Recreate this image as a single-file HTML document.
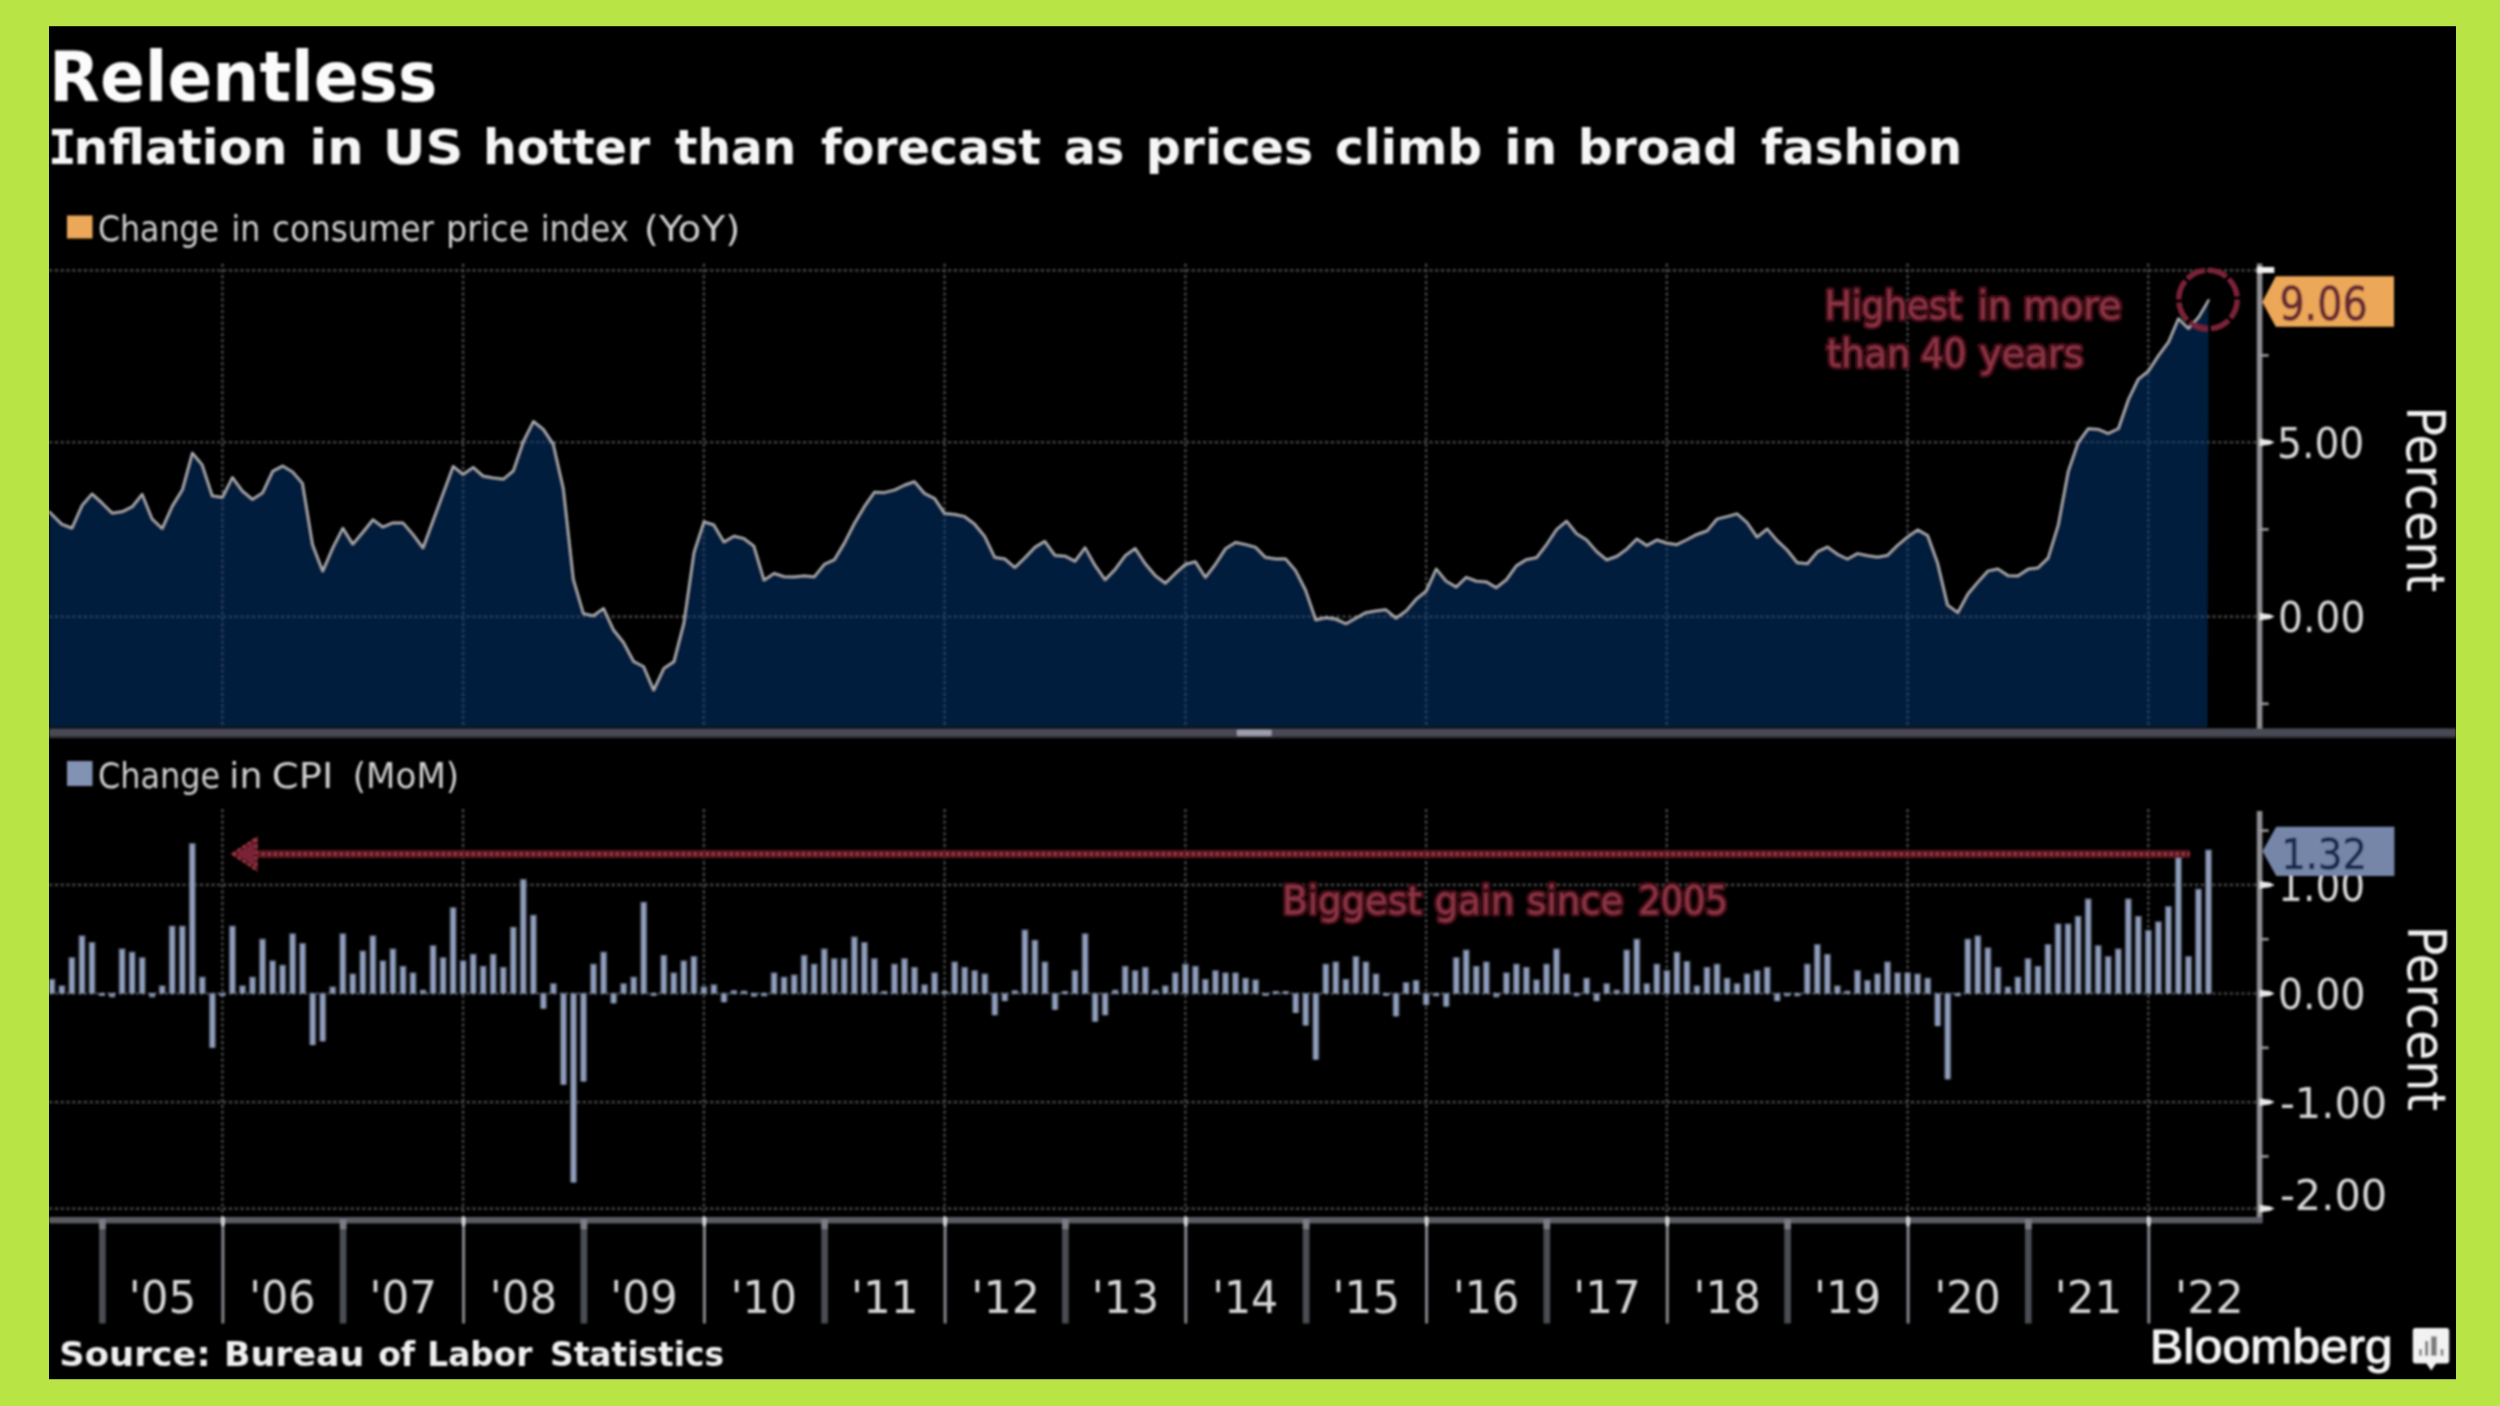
<!DOCTYPE html><html><head><meta charset="utf-8"><title>Relentless - US inflation chart</title>
<style>html,body{margin:0;padding:0;background:#b9e445;}svg{display:block}text{white-space:pre}</style></head><body>
<svg width="2500" height="1406" viewBox="0 0 2500 1406">
<rect x="0" y="0" width="2500" height="1406" fill="#b9e445"/>
<rect x="49" y="26.2" width="2407" height="1353" fill="#000"/>
<defs><filter id="soft" filterUnits="userSpaceOnUse" x="0" y="0" width="2500" height="1406"><feGaussianBlur stdDeviation="0.8"/></filter><clipPath id="box"><rect x="49" y="26.2" width="2407" height="1353"/></clipPath></defs>
<g clip-path="url(#box)"><g filter="url(#soft)">
<path d="M49,270.4 H2256.6" stroke="#424242" stroke-width="2.6" stroke-dasharray="3.2 2.6" fill="none"/>
<path d="M49,442.3 H2256.6" stroke="#424242" stroke-width="2.6" stroke-dasharray="3.2 2.6" fill="none"/>
<path d="M49,616.6 H2256.6" stroke="#424242" stroke-width="2.6" stroke-dasharray="3.2 2.6" fill="none"/>
<path d="M222.4,263.5 V727" stroke="#464646" stroke-width="2.4" stroke-dasharray="3.2 2.6" fill="none"/>
<path d="M463.1,263.5 V727" stroke="#464646" stroke-width="2.4" stroke-dasharray="3.2 2.6" fill="none"/>
<path d="M703.9,263.5 V727" stroke="#464646" stroke-width="2.4" stroke-dasharray="3.2 2.6" fill="none"/>
<path d="M944.6,263.5 V727" stroke="#464646" stroke-width="2.4" stroke-dasharray="3.2 2.6" fill="none"/>
<path d="M1185.4,263.5 V727" stroke="#464646" stroke-width="2.4" stroke-dasharray="3.2 2.6" fill="none"/>
<path d="M1426.1,263.5 V727" stroke="#464646" stroke-width="2.4" stroke-dasharray="3.2 2.6" fill="none"/>
<path d="M1666.8,263.5 V727" stroke="#464646" stroke-width="2.4" stroke-dasharray="3.2 2.6" fill="none"/>
<path d="M1907.6,263.5 V727" stroke="#464646" stroke-width="2.4" stroke-dasharray="3.2 2.6" fill="none"/>
<path d="M2148.3,263.5 V727" stroke="#464646" stroke-width="2.4" stroke-dasharray="3.2 2.6" fill="none"/>
<path d="M49.5,511.9 L61.9,524.1 L71.9,528.0 L82.0,505.3 L92.0,493.8 L102.0,502.8 L112.1,512.9 L122.1,511.6 L132.1,506.7 L142.2,494.1 L152.2,518.9 L162.2,528.3 L172.2,506.0 L182.3,489.6 L192.3,452.9 L202.3,464.8 L212.4,495.8 L222.4,497.2 L232.4,477.3 L242.5,491.0 L252.5,499.3 L262.5,492.7 L272.6,471.1 L282.6,465.8 L292.6,471.8 L302.6,483.3 L312.7,544.7 L322.7,570.9 L332.7,547.8 L342.8,528.0 L352.8,544.0 L362.8,532.1 L372.9,519.6 L382.9,526.9 L392.9,522.7 L403.0,522.7 L413.0,534.2 L423.0,547.8 L433.1,520.3 L443.1,493.1 L453.1,466.2 L463.1,474.2 L473.2,467.2 L483.2,476.0 L493.2,477.7 L503.3,479.1 L513.3,470.7 L523.3,441.4 L533.4,421.2 L543.4,429.2 L553.4,444.2 L563.5,488.9 L573.5,579.3 L583.5,613.5 L593.5,615.6 L603.6,608.2 L613.6,629.9 L623.6,642.4 L633.7,661.3 L643.7,666.5 L653.7,689.9 L663.8,668.3 L673.8,661.6 L683.8,622.9 L693.9,552.4 L703.9,521.7 L713.9,524.8 L724.0,541.9 L734.0,536.0 L744.0,538.4 L754.0,546.1 L764.1,580.0 L774.1,573.3 L784.1,576.5 L794.2,576.8 L804.2,575.8 L814.2,576.8 L824.3,564.2 L834.3,559.7 L844.3,543.0 L854.4,523.1 L864.4,506.3 L874.4,492.0 L884.4,492.4 L894.5,489.9 L904.5,485.0 L914.5,481.5 L924.6,493.4 L934.6,498.3 L944.6,513.3 L954.7,514.3 L964.7,516.4 L974.7,524.1 L984.8,536.3 L994.8,557.3 L1004.8,558.7 L1014.8,567.4 L1024.9,557.6 L1034.9,547.1 L1044.9,541.2 L1055.0,555.2 L1065.0,555.9 L1075.0,561.1 L1085.1,547.5 L1095.1,565.3 L1105.1,579.6 L1115.2,569.1 L1125.2,555.5 L1135.2,548.2 L1145.3,563.6 L1155.3,575.4 L1165.3,583.1 L1175.3,573.3 L1185.4,564.2 L1195.4,561.5 L1205.4,577.2 L1215.5,563.9 L1225.5,548.5 L1235.5,542.3 L1245.6,544.4 L1255.6,547.1 L1265.6,557.3 L1275.7,558.7 L1285.7,558.7 L1295.7,570.5 L1305.7,590.1 L1315.8,619.7 L1325.8,617.6 L1335.8,619.0 L1345.9,623.6 L1355.9,618.0 L1365.9,612.4 L1376.0,610.7 L1386.0,609.6 L1396.0,618.0 L1406.1,610.7 L1416.1,599.1 L1426.1,591.1 L1436.2,568.8 L1446.2,581.0 L1456.2,586.9 L1466.2,577.2 L1476.3,581.0 L1486.3,581.7 L1496.3,587.6 L1506.4,579.6 L1516.4,565.6 L1526.4,559.4 L1536.5,557.6 L1546.5,544.4 L1556.5,529.4 L1566.6,521.0 L1576.6,533.5 L1586.6,539.8 L1596.6,551.3 L1606.7,559.7 L1616.7,556.2 L1626.7,548.9 L1636.8,538.8 L1646.8,545.4 L1656.8,539.8 L1666.9,543.0 L1676.9,544.4 L1686.9,539.5 L1697.0,534.2 L1707.0,530.7 L1717.0,518.9 L1727.1,516.4 L1737.1,513.6 L1747.1,522.4 L1757.1,537.0 L1767.2,528.7 L1777.2,540.5 L1787.2,549.9 L1797.3,562.5 L1807.3,563.6 L1817.3,551.7 L1827.4,546.8 L1837.4,554.1 L1847.4,559.0 L1857.5,553.4 L1867.5,555.5 L1877.5,556.9 L1887.5,555.2 L1897.6,545.1 L1907.6,536.7 L1917.6,529.7 L1927.7,535.3 L1937.7,562.9 L1947.7,605.1 L1957.8,612.4 L1967.8,593.9 L1977.8,582.0 L1987.9,570.9 L1997.9,568.8 L2007.9,575.4 L2017.9,575.8 L2028.0,569.1 L2038.0,567.7 L2048.0,558.0 L2058.1,525.2 L2068.1,471.4 L2078.1,442.4 L2088.2,428.5 L2098.2,429.2 L2108.2,433.4 L2118.3,428.5 L2128.3,399.5 L2138.3,378.9 L2148.4,370.9 L2158.4,355.5 L2168.4,341.9 L2178.4,318.6 L2188.5,328.3 L2198.5,317.2 L2208.5,300.4 L2207.5,727 L49,727 Z" fill="#06356c" fill-opacity="0.56"/>
<path d="M49.5,511.9 L61.9,524.1 L71.9,528.0 L82.0,505.3 L92.0,493.8 L102.0,502.8 L112.1,512.9 L122.1,511.6 L132.1,506.7 L142.2,494.1 L152.2,518.9 L162.2,528.3 L172.2,506.0 L182.3,489.6 L192.3,452.9 L202.3,464.8 L212.4,495.8 L222.4,497.2 L232.4,477.3 L242.5,491.0 L252.5,499.3 L262.5,492.7 L272.6,471.1 L282.6,465.8 L292.6,471.8 L302.6,483.3 L312.7,544.7 L322.7,570.9 L332.7,547.8 L342.8,528.0 L352.8,544.0 L362.8,532.1 L372.9,519.6 L382.9,526.9 L392.9,522.7 L403.0,522.7 L413.0,534.2 L423.0,547.8 L433.1,520.3 L443.1,493.1 L453.1,466.2 L463.1,474.2 L473.2,467.2 L483.2,476.0 L493.2,477.7 L503.3,479.1 L513.3,470.7 L523.3,441.4 L533.4,421.2 L543.4,429.2 L553.4,444.2 L563.5,488.9 L573.5,579.3 L583.5,613.5 L593.5,615.6 L603.6,608.2 L613.6,629.9 L623.6,642.4 L633.7,661.3 L643.7,666.5 L653.7,689.9 L663.8,668.3 L673.8,661.6 L683.8,622.9 L693.9,552.4 L703.9,521.7 L713.9,524.8 L724.0,541.9 L734.0,536.0 L744.0,538.4 L754.0,546.1 L764.1,580.0 L774.1,573.3 L784.1,576.5 L794.2,576.8 L804.2,575.8 L814.2,576.8 L824.3,564.2 L834.3,559.7 L844.3,543.0 L854.4,523.1 L864.4,506.3 L874.4,492.0 L884.4,492.4 L894.5,489.9 L904.5,485.0 L914.5,481.5 L924.6,493.4 L934.6,498.3 L944.6,513.3 L954.7,514.3 L964.7,516.4 L974.7,524.1 L984.8,536.3 L994.8,557.3 L1004.8,558.7 L1014.8,567.4 L1024.9,557.6 L1034.9,547.1 L1044.9,541.2 L1055.0,555.2 L1065.0,555.9 L1075.0,561.1 L1085.1,547.5 L1095.1,565.3 L1105.1,579.6 L1115.2,569.1 L1125.2,555.5 L1135.2,548.2 L1145.3,563.6 L1155.3,575.4 L1165.3,583.1 L1175.3,573.3 L1185.4,564.2 L1195.4,561.5 L1205.4,577.2 L1215.5,563.9 L1225.5,548.5 L1235.5,542.3 L1245.6,544.4 L1255.6,547.1 L1265.6,557.3 L1275.7,558.7 L1285.7,558.7 L1295.7,570.5 L1305.7,590.1 L1315.8,619.7 L1325.8,617.6 L1335.8,619.0 L1345.9,623.6 L1355.9,618.0 L1365.9,612.4 L1376.0,610.7 L1386.0,609.6 L1396.0,618.0 L1406.1,610.7 L1416.1,599.1 L1426.1,591.1 L1436.2,568.8 L1446.2,581.0 L1456.2,586.9 L1466.2,577.2 L1476.3,581.0 L1486.3,581.7 L1496.3,587.6 L1506.4,579.6 L1516.4,565.6 L1526.4,559.4 L1536.5,557.6 L1546.5,544.4 L1556.5,529.4 L1566.6,521.0 L1576.6,533.5 L1586.6,539.8 L1596.6,551.3 L1606.7,559.7 L1616.7,556.2 L1626.7,548.9 L1636.8,538.8 L1646.8,545.4 L1656.8,539.8 L1666.9,543.0 L1676.9,544.4 L1686.9,539.5 L1697.0,534.2 L1707.0,530.7 L1717.0,518.9 L1727.1,516.4 L1737.1,513.6 L1747.1,522.4 L1757.1,537.0 L1767.2,528.7 L1777.2,540.5 L1787.2,549.9 L1797.3,562.5 L1807.3,563.6 L1817.3,551.7 L1827.4,546.8 L1837.4,554.1 L1847.4,559.0 L1857.5,553.4 L1867.5,555.5 L1877.5,556.9 L1887.5,555.2 L1897.6,545.1 L1907.6,536.7 L1917.6,529.7 L1927.7,535.3 L1937.7,562.9 L1947.7,605.1 L1957.8,612.4 L1967.8,593.9 L1977.8,582.0 L1987.9,570.9 L1997.9,568.8 L2007.9,575.4 L2017.9,575.8 L2028.0,569.1 L2038.0,567.7 L2048.0,558.0 L2058.1,525.2 L2068.1,471.4 L2078.1,442.4 L2088.2,428.5 L2098.2,429.2 L2108.2,433.4 L2118.3,428.5 L2128.3,399.5 L2138.3,378.9 L2148.4,370.9 L2158.4,355.5 L2168.4,341.9 L2178.4,318.6 L2188.5,328.3 L2198.5,317.2 L2208.5,300.4" fill="none" stroke="#b0b2b6" stroke-width="2.5" stroke-linejoin="round" stroke-linecap="round"/>
<circle cx="2208" cy="299.5" r="29.2" fill="none" stroke="#7c2438" stroke-width="5.6" stroke-dasharray="19.9 3"/>
<rect x="2256.7999999999997" y="263.5" width="5.6" height="466" fill="#8e8e92"/>
<rect x="2256.7999999999997" y="267" width="17.5" height="6" fill="#f0f0f0"/>
<path d="M2259.6,438.7 L2269.6,439.90000000000003 L2274.6,442.3 L2269.6,444.7 L2259.6,445.90000000000003 Z" fill="#e8e8e8"/>
<path d="M2259.6,613.0 L2269.6,614.2 L2274.6,616.6 L2269.6,619.0 L2259.6,620.2 Z" fill="#e8e8e8"/>
<rect x="2259.6" y="354.09999999999997" width="9" height="2.6" fill="#9a9a9a"/>
<rect x="2259.6" y="528.1" width="9" height="2.6" fill="#9a9a9a"/>
<rect x="2259.6" y="702.5" width="9" height="2.6" fill="#9a9a9a"/>
<rect x="49" y="728.4" width="2407" height="9.6" fill="#484a54"/>
<rect x="49" y="736" width="2407" height="2.4" fill="#2c2d33"/>
<rect x="1237" y="729.8" width="34.5" height="6" fill="#9c9eab"/>
<rect x="67" y="215.5" width="25.5" height="23" fill="#eca858"/>
<rect x="67" y="761" width="25.5" height="25" fill="#8292b2"/>
<path d="M49,884.9 H2256.6" stroke="#424242" stroke-width="2.6" stroke-dasharray="3.2 2.6" fill="none"/>
<path d="M49,993.5 H2256.6" stroke="#424242" stroke-width="2.6" stroke-dasharray="3.2 2.6" fill="none"/>
<path d="M49,1102.1 H2256.6" stroke="#424242" stroke-width="2.6" stroke-dasharray="3.2 2.6" fill="none"/>
<path d="M49,1208.6 H2256.6" stroke="#424242" stroke-width="2.6" stroke-dasharray="3.2 2.6" fill="none"/>
<path d="M222.4,809 V1217" stroke="#464646" stroke-width="2.4" stroke-dasharray="3.2 2.6" fill="none"/>
<path d="M463.1,809 V1217" stroke="#464646" stroke-width="2.4" stroke-dasharray="3.2 2.6" fill="none"/>
<path d="M703.9,809 V1217" stroke="#464646" stroke-width="2.4" stroke-dasharray="3.2 2.6" fill="none"/>
<path d="M944.6,809 V1217" stroke="#464646" stroke-width="2.4" stroke-dasharray="3.2 2.6" fill="none"/>
<path d="M1185.4,809 V1217" stroke="#464646" stroke-width="2.4" stroke-dasharray="3.2 2.6" fill="none"/>
<path d="M1426.1,809 V1217" stroke="#464646" stroke-width="2.4" stroke-dasharray="3.2 2.6" fill="none"/>
<path d="M1666.8,809 V1217" stroke="#464646" stroke-width="2.4" stroke-dasharray="3.2 2.6" fill="none"/>
<path d="M1907.6,809 V1217" stroke="#464646" stroke-width="2.4" stroke-dasharray="3.2 2.6" fill="none"/>
<path d="M2148.3,809 V1217" stroke="#464646" stroke-width="2.4" stroke-dasharray="3.2 2.6" fill="none"/>
<g><rect x="49.0" y="978.8" width="6.4" height="14.7" fill="#555c6c"/><rect x="50.0" y="980.0" width="3.8" height="13.5" fill="#93a3c2"/><rect x="58.4" y="985.3" width="7.0" height="8.2" fill="#555c6c"/><rect x="60.0" y="986.5" width="3.8" height="7.0" fill="#93a3c2"/><rect x="68.4" y="957.1" width="7.0" height="36.4" fill="#555c6c"/><rect x="70.0" y="958.3" width="3.8" height="35.2" fill="#93a3c2"/><rect x="78.5" y="935.3" width="7.0" height="58.2" fill="#555c6c"/><rect x="80.1" y="936.5" width="3.8" height="57.0" fill="#93a3c2"/><rect x="88.5" y="941.9" width="7.0" height="51.6" fill="#555c6c"/><rect x="90.1" y="943.1" width="3.8" height="50.4" fill="#93a3c2"/><rect x="99.0" y="993.0" width="6" height="3.0" fill="#7f8ca6"/><rect x="109.1" y="993.0" width="6" height="4.3" fill="#7f8ca6"/><rect x="118.6" y="948.4" width="7.0" height="45.1" fill="#555c6c"/><rect x="120.2" y="949.6" width="3.8" height="43.9" fill="#93a3c2"/><rect x="128.6" y="951.6" width="7.0" height="41.9" fill="#555c6c"/><rect x="130.2" y="952.8" width="3.8" height="40.7" fill="#93a3c2"/><rect x="138.7" y="957.1" width="7.0" height="36.4" fill="#555c6c"/><rect x="140.3" y="958.3" width="3.8" height="35.2" fill="#93a3c2"/><rect x="149.2" y="993.0" width="6" height="4.3" fill="#7f8ca6"/><rect x="158.7" y="985.3" width="7.0" height="8.2" fill="#555c6c"/><rect x="160.3" y="986.5" width="3.8" height="7.0" fill="#93a3c2"/><rect x="168.7" y="925.6" width="7.0" height="67.9" fill="#555c6c"/><rect x="170.3" y="926.8" width="3.8" height="66.7" fill="#93a3c2"/><rect x="178.8" y="925.6" width="7.0" height="67.9" fill="#555c6c"/><rect x="180.4" y="926.8" width="3.8" height="66.7" fill="#93a3c2"/><rect x="188.8" y="843.0" width="7.0" height="150.5" fill="#555c6c"/><rect x="190.4" y="844.2" width="3.8" height="149.3" fill="#93a3c2"/><rect x="198.8" y="976.6" width="7.0" height="16.9" fill="#555c6c"/><rect x="200.4" y="977.8" width="3.8" height="15.7" fill="#93a3c2"/><rect x="208.9" y="992.9" width="7.0" height="54.9" fill="#555c6c"/><rect x="210.5" y="994.1" width="3.8" height="53.7" fill="#93a3c2"/><rect x="219.4" y="993.0" width="6" height="3.0" fill="#7f8ca6"/><rect x="228.9" y="925.6" width="7.0" height="67.9" fill="#555c6c"/><rect x="230.5" y="926.8" width="3.8" height="66.7" fill="#93a3c2"/><rect x="239.0" y="985.3" width="7.0" height="8.2" fill="#555c6c"/><rect x="240.6" y="986.5" width="3.8" height="7.0" fill="#93a3c2"/><rect x="249.0" y="976.6" width="7.0" height="16.9" fill="#555c6c"/><rect x="250.6" y="977.8" width="3.8" height="15.7" fill="#93a3c2"/><rect x="259.0" y="938.6" width="7.0" height="54.9" fill="#555c6c"/><rect x="260.6" y="939.8" width="3.8" height="53.7" fill="#93a3c2"/><rect x="269.1" y="960.3" width="7.0" height="33.2" fill="#555c6c"/><rect x="270.7" y="961.5" width="3.8" height="32.0" fill="#93a3c2"/><rect x="279.1" y="964.7" width="7.0" height="28.8" fill="#555c6c"/><rect x="280.7" y="965.9" width="3.8" height="27.6" fill="#93a3c2"/><rect x="289.1" y="933.2" width="7.0" height="60.3" fill="#555c6c"/><rect x="290.7" y="934.4" width="3.8" height="59.1" fill="#93a3c2"/><rect x="299.1" y="942.9" width="7.0" height="50.6" fill="#555c6c"/><rect x="300.7" y="944.1" width="3.8" height="49.4" fill="#93a3c2"/><rect x="309.2" y="992.9" width="7.0" height="52.2" fill="#555c6c"/><rect x="310.8" y="994.1" width="3.8" height="51.0" fill="#93a3c2"/><rect x="319.2" y="992.9" width="7.0" height="48.4" fill="#555c6c"/><rect x="320.8" y="994.1" width="3.8" height="47.2" fill="#93a3c2"/><rect x="329.2" y="986.4" width="7.0" height="7.1" fill="#555c6c"/><rect x="330.8" y="987.6" width="3.8" height="5.9" fill="#93a3c2"/><rect x="339.3" y="933.2" width="7.0" height="60.3" fill="#555c6c"/><rect x="340.9" y="934.4" width="3.8" height="59.1" fill="#93a3c2"/><rect x="349.3" y="973.4" width="7.0" height="20.1" fill="#555c6c"/><rect x="350.9" y="974.6" width="3.8" height="18.9" fill="#93a3c2"/><rect x="359.3" y="950.5" width="7.0" height="43.0" fill="#555c6c"/><rect x="360.9" y="951.7" width="3.8" height="41.8" fill="#93a3c2"/><rect x="369.4" y="935.3" width="7.0" height="58.2" fill="#555c6c"/><rect x="371.0" y="936.5" width="3.8" height="57.0" fill="#93a3c2"/><rect x="379.4" y="960.3" width="7.0" height="33.2" fill="#555c6c"/><rect x="381.0" y="961.5" width="3.8" height="32.0" fill="#93a3c2"/><rect x="389.4" y="948.4" width="7.0" height="45.1" fill="#555c6c"/><rect x="391.0" y="949.6" width="3.8" height="43.9" fill="#93a3c2"/><rect x="399.5" y="965.8" width="7.0" height="27.7" fill="#555c6c"/><rect x="401.1" y="967.0" width="3.8" height="26.5" fill="#93a3c2"/><rect x="409.5" y="972.3" width="7.0" height="21.2" fill="#555c6c"/><rect x="411.1" y="973.5" width="3.8" height="20.0" fill="#93a3c2"/><rect x="420.0" y="989.7" width="6" height="4.3" fill="#7f8ca6"/><rect x="429.6" y="945.1" width="7.0" height="48.4" fill="#555c6c"/><rect x="431.2" y="946.3" width="3.8" height="47.2" fill="#93a3c2"/><rect x="439.6" y="957.1" width="7.0" height="36.4" fill="#555c6c"/><rect x="441.2" y="958.3" width="3.8" height="35.2" fill="#93a3c2"/><rect x="449.6" y="907.1" width="7.0" height="86.4" fill="#555c6c"/><rect x="451.2" y="908.3" width="3.8" height="85.2" fill="#93a3c2"/><rect x="459.6" y="960.3" width="7.0" height="33.2" fill="#555c6c"/><rect x="461.2" y="961.5" width="3.8" height="32.0" fill="#93a3c2"/><rect x="469.7" y="953.8" width="7.0" height="39.7" fill="#555c6c"/><rect x="471.3" y="955.0" width="3.8" height="38.5" fill="#93a3c2"/><rect x="479.7" y="965.8" width="7.0" height="27.7" fill="#555c6c"/><rect x="481.3" y="967.0" width="3.8" height="26.5" fill="#93a3c2"/><rect x="489.7" y="953.8" width="7.0" height="39.7" fill="#555c6c"/><rect x="491.3" y="955.0" width="3.8" height="38.5" fill="#93a3c2"/><rect x="499.8" y="966.8" width="7.0" height="26.7" fill="#555c6c"/><rect x="501.4" y="968.0" width="3.8" height="25.5" fill="#93a3c2"/><rect x="509.8" y="926.7" width="7.0" height="66.8" fill="#555c6c"/><rect x="511.4" y="927.9" width="3.8" height="65.6" fill="#93a3c2"/><rect x="519.8" y="878.9" width="7.0" height="114.6" fill="#555c6c"/><rect x="521.4" y="880.1" width="3.8" height="113.4" fill="#93a3c2"/><rect x="529.9" y="914.7" width="7.0" height="78.8" fill="#555c6c"/><rect x="531.5" y="915.9" width="3.8" height="77.6" fill="#93a3c2"/><rect x="539.9" y="992.9" width="7.0" height="15.8" fill="#555c6c"/><rect x="541.5" y="994.1" width="3.8" height="14.6" fill="#93a3c2"/><rect x="549.9" y="983.1" width="7.0" height="10.4" fill="#555c6c"/><rect x="551.5" y="984.3" width="3.8" height="9.2" fill="#93a3c2"/><rect x="560.0" y="992.9" width="7.0" height="91.8" fill="#555c6c"/><rect x="561.6" y="994.1" width="3.8" height="90.6" fill="#93a3c2"/><rect x="570.0" y="992.9" width="7.0" height="189.6" fill="#555c6c"/><rect x="571.6" y="994.1" width="3.8" height="188.4" fill="#93a3c2"/><rect x="580.0" y="992.9" width="7.0" height="88.6" fill="#555c6c"/><rect x="581.6" y="994.1" width="3.8" height="87.4" fill="#93a3c2"/><rect x="590.0" y="963.6" width="7.0" height="29.9" fill="#555c6c"/><rect x="591.6" y="964.8" width="3.8" height="28.7" fill="#93a3c2"/><rect x="600.1" y="951.6" width="7.0" height="41.9" fill="#555c6c"/><rect x="601.7" y="952.8" width="3.8" height="40.7" fill="#93a3c2"/><rect x="610.1" y="992.9" width="7.0" height="10.4" fill="#555c6c"/><rect x="611.7" y="994.1" width="3.8" height="9.2" fill="#93a3c2"/><rect x="620.1" y="983.1" width="7.0" height="10.4" fill="#555c6c"/><rect x="621.7" y="984.3" width="3.8" height="9.2" fill="#93a3c2"/><rect x="630.2" y="976.6" width="7.0" height="16.9" fill="#555c6c"/><rect x="631.8" y="977.8" width="3.8" height="15.7" fill="#93a3c2"/><rect x="640.2" y="901.7" width="7.0" height="91.8" fill="#555c6c"/><rect x="641.8" y="902.9" width="3.8" height="90.6" fill="#93a3c2"/><rect x="650.7" y="993.0" width="6" height="3.0" fill="#7f8ca6"/><rect x="660.3" y="954.9" width="7.0" height="38.6" fill="#555c6c"/><rect x="661.9" y="956.1" width="3.8" height="37.4" fill="#93a3c2"/><rect x="670.3" y="972.3" width="7.0" height="21.2" fill="#555c6c"/><rect x="671.9" y="973.5" width="3.8" height="20.0" fill="#93a3c2"/><rect x="680.3" y="960.3" width="7.0" height="33.2" fill="#555c6c"/><rect x="681.9" y="961.5" width="3.8" height="32.0" fill="#93a3c2"/><rect x="690.4" y="956.0" width="7.0" height="37.5" fill="#555c6c"/><rect x="692.0" y="957.2" width="3.8" height="36.3" fill="#93a3c2"/><rect x="700.4" y="986.4" width="7.0" height="7.1" fill="#555c6c"/><rect x="702.0" y="987.6" width="3.8" height="5.9" fill="#93a3c2"/><rect x="710.4" y="984.2" width="7.0" height="9.3" fill="#555c6c"/><rect x="712.0" y="985.4" width="3.8" height="8.1" fill="#93a3c2"/><rect x="720.5" y="992.9" width="7.0" height="9.3" fill="#555c6c"/><rect x="722.1" y="994.1" width="3.8" height="8.1" fill="#93a3c2"/><rect x="731.0" y="990.2" width="6" height="3.8" fill="#7f8ca6"/><rect x="741.0" y="990.7" width="6" height="3.3" fill="#7f8ca6"/><rect x="751.0" y="993.0" width="6" height="3.8" fill="#7f8ca6"/><rect x="761.1" y="993.0" width="6" height="3.3" fill="#7f8ca6"/><rect x="770.6" y="972.3" width="7.0" height="21.2" fill="#555c6c"/><rect x="772.2" y="973.5" width="3.8" height="20.0" fill="#93a3c2"/><rect x="780.6" y="976.6" width="7.0" height="16.9" fill="#555c6c"/><rect x="782.2" y="977.8" width="3.8" height="15.7" fill="#93a3c2"/><rect x="790.7" y="974.4" width="7.0" height="19.1" fill="#555c6c"/><rect x="792.3" y="975.6" width="3.8" height="17.9" fill="#93a3c2"/><rect x="800.7" y="954.9" width="7.0" height="38.6" fill="#555c6c"/><rect x="802.3" y="956.1" width="3.8" height="37.4" fill="#93a3c2"/><rect x="810.7" y="963.6" width="7.0" height="29.9" fill="#555c6c"/><rect x="812.3" y="964.8" width="3.8" height="28.7" fill="#93a3c2"/><rect x="820.8" y="948.4" width="7.0" height="45.1" fill="#555c6c"/><rect x="822.4" y="949.6" width="3.8" height="43.9" fill="#93a3c2"/><rect x="830.8" y="958.1" width="7.0" height="35.4" fill="#555c6c"/><rect x="832.4" y="959.3" width="3.8" height="34.2" fill="#93a3c2"/><rect x="840.8" y="958.1" width="7.0" height="35.4" fill="#555c6c"/><rect x="842.4" y="959.3" width="3.8" height="34.2" fill="#93a3c2"/><rect x="850.9" y="936.4" width="7.0" height="57.1" fill="#555c6c"/><rect x="852.5" y="937.6" width="3.8" height="55.9" fill="#93a3c2"/><rect x="860.9" y="941.9" width="7.0" height="51.6" fill="#555c6c"/><rect x="862.5" y="943.1" width="3.8" height="50.4" fill="#93a3c2"/><rect x="870.9" y="958.1" width="7.0" height="35.4" fill="#555c6c"/><rect x="872.5" y="959.3" width="3.8" height="34.2" fill="#93a3c2"/><rect x="881.4" y="991.0" width="6" height="3.0" fill="#7f8ca6"/><rect x="891.0" y="963.6" width="7.0" height="29.9" fill="#555c6c"/><rect x="892.6" y="964.8" width="3.8" height="28.7" fill="#93a3c2"/><rect x="901.0" y="958.1" width="7.0" height="35.4" fill="#555c6c"/><rect x="902.6" y="959.3" width="3.8" height="34.2" fill="#93a3c2"/><rect x="911.0" y="966.8" width="7.0" height="26.7" fill="#555c6c"/><rect x="912.6" y="968.0" width="3.8" height="25.5" fill="#93a3c2"/><rect x="921.1" y="984.2" width="7.0" height="9.3" fill="#555c6c"/><rect x="922.7" y="985.4" width="3.8" height="8.1" fill="#93a3c2"/><rect x="931.1" y="972.3" width="7.0" height="21.2" fill="#555c6c"/><rect x="932.7" y="973.5" width="3.8" height="20.0" fill="#93a3c2"/><rect x="941.6" y="991.0" width="6" height="3.0" fill="#7f8ca6"/><rect x="951.2" y="961.4" width="7.0" height="32.1" fill="#555c6c"/><rect x="952.8" y="962.6" width="3.8" height="30.9" fill="#93a3c2"/><rect x="961.2" y="966.8" width="7.0" height="26.7" fill="#555c6c"/><rect x="962.8" y="968.0" width="3.8" height="25.5" fill="#93a3c2"/><rect x="971.2" y="970.1" width="7.0" height="23.4" fill="#555c6c"/><rect x="972.8" y="971.3" width="3.8" height="22.2" fill="#93a3c2"/><rect x="981.3" y="973.4" width="7.0" height="20.1" fill="#555c6c"/><rect x="982.9" y="974.6" width="3.8" height="18.9" fill="#93a3c2"/><rect x="991.3" y="992.9" width="7.0" height="22.3" fill="#555c6c"/><rect x="992.9" y="994.1" width="3.8" height="21.1" fill="#93a3c2"/><rect x="1001.3" y="992.9" width="7.0" height="8.2" fill="#555c6c"/><rect x="1002.9" y="994.1" width="3.8" height="7.0" fill="#93a3c2"/><rect x="1011.8" y="990.2" width="6" height="3.8" fill="#7f8ca6"/><rect x="1021.4" y="929.4" width="7.0" height="64.1" fill="#555c6c"/><rect x="1023.0" y="930.6" width="3.8" height="62.9" fill="#93a3c2"/><rect x="1031.4" y="939.7" width="7.0" height="53.8" fill="#555c6c"/><rect x="1033.0" y="940.9" width="3.8" height="52.6" fill="#93a3c2"/><rect x="1041.4" y="961.4" width="7.0" height="32.1" fill="#555c6c"/><rect x="1043.0" y="962.6" width="3.8" height="30.9" fill="#93a3c2"/><rect x="1051.5" y="992.9" width="7.0" height="16.9" fill="#555c6c"/><rect x="1053.1" y="994.1" width="3.8" height="15.7" fill="#93a3c2"/><rect x="1062.0" y="991.0" width="6" height="3.0" fill="#7f8ca6"/><rect x="1071.5" y="970.1" width="7.0" height="23.4" fill="#555c6c"/><rect x="1073.1" y="971.3" width="3.8" height="22.2" fill="#93a3c2"/><rect x="1081.6" y="933.2" width="7.0" height="60.3" fill="#555c6c"/><rect x="1083.2" y="934.4" width="3.8" height="59.1" fill="#93a3c2"/><rect x="1091.6" y="992.9" width="7.0" height="28.8" fill="#555c6c"/><rect x="1093.2" y="994.1" width="3.8" height="27.6" fill="#93a3c2"/><rect x="1101.6" y="992.9" width="7.0" height="22.3" fill="#555c6c"/><rect x="1103.2" y="994.1" width="3.8" height="21.1" fill="#93a3c2"/><rect x="1112.2" y="989.7" width="6" height="4.3" fill="#7f8ca6"/><rect x="1121.7" y="965.8" width="7.0" height="27.7" fill="#555c6c"/><rect x="1123.3" y="967.0" width="3.8" height="26.5" fill="#93a3c2"/><rect x="1131.7" y="970.1" width="7.0" height="23.4" fill="#555c6c"/><rect x="1133.3" y="971.3" width="3.8" height="22.2" fill="#93a3c2"/><rect x="1141.8" y="966.8" width="7.0" height="26.7" fill="#555c6c"/><rect x="1143.4" y="968.0" width="3.8" height="25.5" fill="#93a3c2"/><rect x="1152.3" y="989.7" width="6" height="4.3" fill="#7f8ca6"/><rect x="1161.8" y="985.3" width="7.0" height="8.2" fill="#555c6c"/><rect x="1163.4" y="986.5" width="3.8" height="7.0" fill="#93a3c2"/><rect x="1171.8" y="972.3" width="7.0" height="21.2" fill="#555c6c"/><rect x="1173.4" y="973.5" width="3.8" height="20.0" fill="#93a3c2"/><rect x="1181.9" y="963.6" width="7.0" height="29.9" fill="#555c6c"/><rect x="1183.5" y="964.8" width="3.8" height="28.7" fill="#93a3c2"/><rect x="1191.9" y="965.8" width="7.0" height="27.7" fill="#555c6c"/><rect x="1193.5" y="967.0" width="3.8" height="26.5" fill="#93a3c2"/><rect x="1201.9" y="978.8" width="7.0" height="14.7" fill="#555c6c"/><rect x="1203.5" y="980.0" width="3.8" height="13.5" fill="#93a3c2"/><rect x="1212.0" y="970.1" width="7.0" height="23.4" fill="#555c6c"/><rect x="1213.6" y="971.3" width="3.8" height="22.2" fill="#93a3c2"/><rect x="1222.0" y="972.3" width="7.0" height="21.2" fill="#555c6c"/><rect x="1223.6" y="973.5" width="3.8" height="20.0" fill="#93a3c2"/><rect x="1232.0" y="972.3" width="7.0" height="21.2" fill="#555c6c"/><rect x="1233.6" y="973.5" width="3.8" height="20.0" fill="#93a3c2"/><rect x="1242.1" y="977.7" width="7.0" height="15.8" fill="#555c6c"/><rect x="1243.7" y="978.9" width="3.8" height="14.6" fill="#93a3c2"/><rect x="1252.1" y="979.3" width="7.0" height="14.2" fill="#555c6c"/><rect x="1253.7" y="980.5" width="3.8" height="13.0" fill="#93a3c2"/><rect x="1262.6" y="993.0" width="6" height="3.0" fill="#7f8ca6"/><rect x="1272.7" y="991.0" width="6" height="3.0" fill="#7f8ca6"/><rect x="1282.7" y="991.0" width="6" height="3.0" fill="#7f8ca6"/><rect x="1292.2" y="992.9" width="7.0" height="20.1" fill="#555c6c"/><rect x="1293.8" y="994.1" width="3.8" height="18.9" fill="#93a3c2"/><rect x="1302.2" y="992.9" width="7.0" height="32.6" fill="#555c6c"/><rect x="1303.8" y="994.1" width="3.8" height="31.4" fill="#93a3c2"/><rect x="1312.3" y="992.9" width="7.0" height="66.8" fill="#555c6c"/><rect x="1313.9" y="994.1" width="3.8" height="65.6" fill="#93a3c2"/><rect x="1322.3" y="963.6" width="7.0" height="29.9" fill="#555c6c"/><rect x="1323.9" y="964.8" width="3.8" height="28.7" fill="#93a3c2"/><rect x="1332.3" y="961.4" width="7.0" height="32.1" fill="#555c6c"/><rect x="1333.9" y="962.6" width="3.8" height="30.9" fill="#93a3c2"/><rect x="1342.4" y="978.8" width="7.0" height="14.7" fill="#555c6c"/><rect x="1344.0" y="980.0" width="3.8" height="13.5" fill="#93a3c2"/><rect x="1352.4" y="956.0" width="7.0" height="37.5" fill="#555c6c"/><rect x="1354.0" y="957.2" width="3.8" height="36.3" fill="#93a3c2"/><rect x="1362.4" y="961.4" width="7.0" height="32.1" fill="#555c6c"/><rect x="1364.0" y="962.6" width="3.8" height="30.9" fill="#93a3c2"/><rect x="1372.5" y="973.4" width="7.0" height="20.1" fill="#555c6c"/><rect x="1374.1" y="974.6" width="3.8" height="18.9" fill="#93a3c2"/><rect x="1383.0" y="993.0" width="6" height="3.0" fill="#7f8ca6"/><rect x="1392.5" y="992.9" width="7.0" height="23.4" fill="#555c6c"/><rect x="1394.1" y="994.1" width="3.8" height="22.2" fill="#93a3c2"/><rect x="1402.6" y="982.0" width="7.0" height="11.5" fill="#555c6c"/><rect x="1404.2" y="983.2" width="3.8" height="10.3" fill="#93a3c2"/><rect x="1412.6" y="979.9" width="7.0" height="13.6" fill="#555c6c"/><rect x="1414.2" y="981.1" width="3.8" height="12.4" fill="#93a3c2"/><rect x="1422.6" y="992.9" width="7.0" height="12.0" fill="#555c6c"/><rect x="1424.2" y="994.1" width="3.8" height="10.8" fill="#93a3c2"/><rect x="1433.2" y="993.0" width="6" height="3.3" fill="#7f8ca6"/><rect x="1442.7" y="992.9" width="7.0" height="13.6" fill="#555c6c"/><rect x="1444.3" y="994.1" width="3.8" height="12.4" fill="#93a3c2"/><rect x="1452.7" y="957.1" width="7.0" height="36.4" fill="#555c6c"/><rect x="1454.3" y="958.3" width="3.8" height="35.2" fill="#93a3c2"/><rect x="1462.7" y="949.5" width="7.0" height="44.0" fill="#555c6c"/><rect x="1464.3" y="950.7" width="3.8" height="42.8" fill="#93a3c2"/><rect x="1472.8" y="965.8" width="7.0" height="27.7" fill="#555c6c"/><rect x="1474.4" y="967.0" width="3.8" height="26.5" fill="#93a3c2"/><rect x="1482.8" y="961.4" width="7.0" height="32.1" fill="#555c6c"/><rect x="1484.4" y="962.6" width="3.8" height="30.9" fill="#93a3c2"/><rect x="1493.3" y="993.0" width="6" height="4.3" fill="#7f8ca6"/><rect x="1502.9" y="972.3" width="7.0" height="21.2" fill="#555c6c"/><rect x="1504.5" y="973.5" width="3.8" height="20.0" fill="#93a3c2"/><rect x="1512.9" y="963.6" width="7.0" height="29.9" fill="#555c6c"/><rect x="1514.5" y="964.8" width="3.8" height="28.7" fill="#93a3c2"/><rect x="1522.9" y="966.8" width="7.0" height="26.7" fill="#555c6c"/><rect x="1524.5" y="968.0" width="3.8" height="25.5" fill="#93a3c2"/><rect x="1533.0" y="979.3" width="7.0" height="14.2" fill="#555c6c"/><rect x="1534.6" y="980.5" width="3.8" height="13.0" fill="#93a3c2"/><rect x="1543.0" y="963.6" width="7.0" height="29.9" fill="#555c6c"/><rect x="1544.6" y="964.8" width="3.8" height="28.7" fill="#93a3c2"/><rect x="1553.0" y="948.4" width="7.0" height="45.1" fill="#555c6c"/><rect x="1554.6" y="949.6" width="3.8" height="43.9" fill="#93a3c2"/><rect x="1563.1" y="973.4" width="7.0" height="20.1" fill="#555c6c"/><rect x="1564.7" y="974.6" width="3.8" height="18.9" fill="#93a3c2"/><rect x="1573.6" y="993.0" width="6" height="3.3" fill="#7f8ca6"/><rect x="1583.1" y="977.7" width="7.0" height="15.8" fill="#555c6c"/><rect x="1584.7" y="978.9" width="3.8" height="14.6" fill="#93a3c2"/><rect x="1593.1" y="992.9" width="7.0" height="8.2" fill="#555c6c"/><rect x="1594.7" y="994.1" width="3.8" height="7.0" fill="#93a3c2"/><rect x="1603.2" y="983.1" width="7.0" height="10.4" fill="#555c6c"/><rect x="1604.8" y="984.3" width="3.8" height="9.2" fill="#93a3c2"/><rect x="1613.7" y="989.7" width="6" height="4.3" fill="#7f8ca6"/><rect x="1623.2" y="949.5" width="7.0" height="44.0" fill="#555c6c"/><rect x="1624.8" y="950.7" width="3.8" height="42.8" fill="#93a3c2"/><rect x="1633.3" y="938.6" width="7.0" height="54.9" fill="#555c6c"/><rect x="1634.9" y="939.8" width="3.8" height="53.7" fill="#93a3c2"/><rect x="1643.3" y="983.1" width="7.0" height="10.4" fill="#555c6c"/><rect x="1644.9" y="984.3" width="3.8" height="9.2" fill="#93a3c2"/><rect x="1653.3" y="963.6" width="7.0" height="29.9" fill="#555c6c"/><rect x="1654.9" y="964.8" width="3.8" height="28.7" fill="#93a3c2"/><rect x="1663.4" y="970.1" width="7.0" height="23.4" fill="#555c6c"/><rect x="1665.0" y="971.3" width="3.8" height="22.2" fill="#93a3c2"/><rect x="1673.4" y="951.6" width="7.0" height="41.9" fill="#555c6c"/><rect x="1675.0" y="952.8" width="3.8" height="40.7" fill="#93a3c2"/><rect x="1683.4" y="960.9" width="7.0" height="32.6" fill="#555c6c"/><rect x="1685.0" y="962.1" width="3.8" height="31.4" fill="#93a3c2"/><rect x="1693.5" y="985.3" width="7.0" height="8.2" fill="#555c6c"/><rect x="1695.1" y="986.5" width="3.8" height="7.0" fill="#93a3c2"/><rect x="1703.5" y="966.8" width="7.0" height="26.7" fill="#555c6c"/><rect x="1705.1" y="968.0" width="3.8" height="25.5" fill="#93a3c2"/><rect x="1713.5" y="963.6" width="7.0" height="29.9" fill="#555c6c"/><rect x="1715.1" y="964.8" width="3.8" height="28.7" fill="#93a3c2"/><rect x="1723.6" y="977.7" width="7.0" height="15.8" fill="#555c6c"/><rect x="1725.2" y="978.9" width="3.8" height="14.6" fill="#93a3c2"/><rect x="1733.6" y="983.1" width="7.0" height="10.4" fill="#555c6c"/><rect x="1735.2" y="984.3" width="3.8" height="9.2" fill="#93a3c2"/><rect x="1743.6" y="973.4" width="7.0" height="20.1" fill="#555c6c"/><rect x="1745.2" y="974.6" width="3.8" height="18.9" fill="#93a3c2"/><rect x="1753.6" y="970.1" width="7.0" height="23.4" fill="#555c6c"/><rect x="1755.2" y="971.3" width="3.8" height="22.2" fill="#93a3c2"/><rect x="1763.7" y="966.8" width="7.0" height="26.7" fill="#555c6c"/><rect x="1765.3" y="968.0" width="3.8" height="25.5" fill="#93a3c2"/><rect x="1773.7" y="992.9" width="7.0" height="8.2" fill="#555c6c"/><rect x="1775.3" y="994.1" width="3.8" height="7.0" fill="#93a3c2"/><rect x="1784.2" y="993.0" width="6" height="3.3" fill="#7f8ca6"/><rect x="1794.3" y="993.0" width="6" height="3.3" fill="#7f8ca6"/><rect x="1803.8" y="963.6" width="7.0" height="29.9" fill="#555c6c"/><rect x="1805.4" y="964.8" width="3.8" height="28.7" fill="#93a3c2"/><rect x="1813.8" y="944.0" width="7.0" height="49.5" fill="#555c6c"/><rect x="1815.4" y="945.2" width="3.8" height="48.3" fill="#93a3c2"/><rect x="1823.9" y="953.8" width="7.0" height="39.7" fill="#555c6c"/><rect x="1825.5" y="955.0" width="3.8" height="38.5" fill="#93a3c2"/><rect x="1833.9" y="985.3" width="7.0" height="8.2" fill="#555c6c"/><rect x="1835.5" y="986.5" width="3.8" height="7.0" fill="#93a3c2"/><rect x="1844.4" y="990.7" width="6" height="3.3" fill="#7f8ca6"/><rect x="1854.0" y="970.1" width="7.0" height="23.4" fill="#555c6c"/><rect x="1855.6" y="971.3" width="3.8" height="22.2" fill="#93a3c2"/><rect x="1864.0" y="979.9" width="7.0" height="13.6" fill="#555c6c"/><rect x="1865.6" y="981.1" width="3.8" height="12.4" fill="#93a3c2"/><rect x="1874.0" y="973.4" width="7.0" height="20.1" fill="#555c6c"/><rect x="1875.6" y="974.6" width="3.8" height="18.9" fill="#93a3c2"/><rect x="1884.0" y="961.4" width="7.0" height="32.1" fill="#555c6c"/><rect x="1885.6" y="962.6" width="3.8" height="30.9" fill="#93a3c2"/><rect x="1894.1" y="972.3" width="7.0" height="21.2" fill="#555c6c"/><rect x="1895.7" y="973.5" width="3.8" height="20.0" fill="#93a3c2"/><rect x="1904.1" y="972.3" width="7.0" height="21.2" fill="#555c6c"/><rect x="1905.7" y="973.5" width="3.8" height="20.0" fill="#93a3c2"/><rect x="1914.1" y="973.4" width="7.0" height="20.1" fill="#555c6c"/><rect x="1915.7" y="974.6" width="3.8" height="18.9" fill="#93a3c2"/><rect x="1924.2" y="977.7" width="7.0" height="15.8" fill="#555c6c"/><rect x="1925.8" y="978.9" width="3.8" height="14.6" fill="#93a3c2"/><rect x="1934.2" y="992.9" width="7.0" height="33.2" fill="#555c6c"/><rect x="1935.8" y="994.1" width="3.8" height="32.0" fill="#93a3c2"/><rect x="1944.2" y="992.9" width="7.0" height="86.4" fill="#555c6c"/><rect x="1945.8" y="994.1" width="3.8" height="85.2" fill="#93a3c2"/><rect x="1954.8" y="993.0" width="6" height="3.3" fill="#7f8ca6"/><rect x="1964.3" y="938.6" width="7.0" height="54.9" fill="#555c6c"/><rect x="1965.9" y="939.8" width="3.8" height="53.7" fill="#93a3c2"/><rect x="1974.3" y="935.3" width="7.0" height="58.2" fill="#555c6c"/><rect x="1975.9" y="936.5" width="3.8" height="57.0" fill="#93a3c2"/><rect x="1984.4" y="947.3" width="7.0" height="46.2" fill="#555c6c"/><rect x="1986.0" y="948.5" width="3.8" height="45.0" fill="#93a3c2"/><rect x="1994.4" y="966.8" width="7.0" height="26.7" fill="#555c6c"/><rect x="1996.0" y="968.0" width="3.8" height="25.5" fill="#93a3c2"/><rect x="2004.4" y="986.4" width="7.0" height="7.1" fill="#555c6c"/><rect x="2006.0" y="987.6" width="3.8" height="5.9" fill="#93a3c2"/><rect x="2014.4" y="976.6" width="7.0" height="16.9" fill="#555c6c"/><rect x="2016.0" y="977.8" width="3.8" height="15.7" fill="#93a3c2"/><rect x="2024.5" y="958.1" width="7.0" height="35.4" fill="#555c6c"/><rect x="2026.1" y="959.3" width="3.8" height="34.2" fill="#93a3c2"/><rect x="2034.5" y="965.8" width="7.0" height="27.7" fill="#555c6c"/><rect x="2036.1" y="967.0" width="3.8" height="26.5" fill="#93a3c2"/><rect x="2044.5" y="944.0" width="7.0" height="49.5" fill="#555c6c"/><rect x="2046.1" y="945.2" width="3.8" height="48.3" fill="#93a3c2"/><rect x="2054.6" y="923.4" width="7.0" height="70.1" fill="#555c6c"/><rect x="2056.2" y="924.6" width="3.8" height="68.9" fill="#93a3c2"/><rect x="2064.6" y="923.4" width="7.0" height="70.1" fill="#555c6c"/><rect x="2066.2" y="924.6" width="3.8" height="68.9" fill="#93a3c2"/><rect x="2074.6" y="915.8" width="7.0" height="77.7" fill="#555c6c"/><rect x="2076.2" y="917.0" width="3.8" height="76.5" fill="#93a3c2"/><rect x="2084.7" y="898.4" width="7.0" height="95.1" fill="#555c6c"/><rect x="2086.3" y="899.6" width="3.8" height="93.9" fill="#93a3c2"/><rect x="2094.7" y="945.1" width="7.0" height="48.4" fill="#555c6c"/><rect x="2096.3" y="946.3" width="3.8" height="47.2" fill="#93a3c2"/><rect x="2104.7" y="956.0" width="7.0" height="37.5" fill="#555c6c"/><rect x="2106.3" y="957.2" width="3.8" height="36.3" fill="#93a3c2"/><rect x="2114.8" y="948.4" width="7.0" height="45.1" fill="#555c6c"/><rect x="2116.4" y="949.6" width="3.8" height="43.9" fill="#93a3c2"/><rect x="2124.8" y="898.4" width="7.0" height="95.1" fill="#555c6c"/><rect x="2126.4" y="899.6" width="3.8" height="93.9" fill="#93a3c2"/><rect x="2134.8" y="915.8" width="7.0" height="77.7" fill="#555c6c"/><rect x="2136.4" y="917.0" width="3.8" height="76.5" fill="#93a3c2"/><rect x="2144.9" y="929.9" width="7.0" height="63.6" fill="#555c6c"/><rect x="2146.5" y="931.1" width="3.8" height="62.4" fill="#93a3c2"/><rect x="2154.9" y="921.2" width="7.0" height="72.3" fill="#555c6c"/><rect x="2156.5" y="922.4" width="3.8" height="71.1" fill="#93a3c2"/><rect x="2164.9" y="906.0" width="7.0" height="87.5" fill="#555c6c"/><rect x="2166.5" y="907.2" width="3.8" height="86.3" fill="#93a3c2"/><rect x="2174.9" y="857.1" width="7.0" height="136.3" fill="#555c6c"/><rect x="2176.5" y="858.4" width="3.8" height="135.2" fill="#93a3c2"/><rect x="2185.0" y="956.0" width="7.0" height="37.5" fill="#555c6c"/><rect x="2186.6" y="957.2" width="3.8" height="36.3" fill="#93a3c2"/><rect x="2195.0" y="888.6" width="7.0" height="104.9" fill="#555c6c"/><rect x="2196.6" y="889.8" width="3.8" height="103.7" fill="#93a3c2"/><rect x="2205.0" y="849.5" width="7.0" height="144.0" fill="#555c6c"/><rect x="2206.6" y="850.7" width="3.8" height="142.8" fill="#93a3c2"/></g>
<path d="M250,854 H2190" stroke="#5a1420" stroke-width="8" fill="none"/>
<path d="M250,854 H2190" stroke="#9c4044" stroke-width="3.2" stroke-dasharray="2.6 3.4" fill="none"/>
<path d="M230,854 L258,835.5 L258,872.5 Z" fill="#5a1420"/>
<path d="M237,854 L254,843 L254,865 Z" fill="#7a2438"/>
<path d="M233,854 L256,838.5 M233,854 L256,869.5 M256,839 V869" stroke="#9c4044" stroke-width="2.6" stroke-dasharray="2.6 3.4" fill="none"/>
<rect x="2256.7999999999997" y="811" width="5.6" height="412" fill="#8e8e92"/>
<path d="M2259.6,881.3 L2269.6,882.5 L2274.6,884.9 L2269.6,887.3 L2259.6,888.5 Z" fill="#e8e8e8"/>
<path d="M2259.6,989.9 L2269.6,991.1 L2274.6,993.5 L2269.6,995.9 L2259.6,997.1 Z" fill="#e8e8e8"/>
<path d="M2259.6,1098.5 L2269.6,1099.6999999999998 L2274.6,1102.1 L2269.6,1104.5 L2259.6,1105.6999999999998 Z" fill="#e8e8e8"/>
<path d="M2259.6,1205.0 L2269.6,1206.1999999999998 L2274.6,1208.6 L2269.6,1211.0 L2259.6,1212.1999999999998 Z" fill="#e8e8e8"/>
<rect x="2259.6" y="829.3000000000001" width="9" height="2.6" fill="#9a9a9a"/>
<rect x="2259.6" y="937.9000000000001" width="9" height="2.6" fill="#9a9a9a"/>
<rect x="2259.6" y="1046.5" width="9" height="2.6" fill="#9a9a9a"/>
<rect x="2259.6" y="1155.1000000000001" width="9" height="2.6" fill="#9a9a9a"/>
<rect x="49" y="1217" width="2213.4" height="6.4" fill="#5a5c64"/>
<rect x="99.1" y="1218" width="6.6" height="105.5" fill="#4c4e55"/>
<rect x="99.1" y="1219" width="6.6" height="10" fill="#7a7c84"/>
<rect x="221.4" y="1218" width="3" height="105.5" fill="#85878d"/>
<rect x="221.2" y="1217" width="3.4" height="9" fill="#d4d4d4"/>
<rect x="339.8" y="1218" width="6.6" height="105.5" fill="#4c4e55"/>
<rect x="339.8" y="1219" width="6.6" height="10" fill="#7a7c84"/>
<rect x="462.1" y="1218" width="3" height="105.5" fill="#85878d"/>
<rect x="461.9" y="1217" width="3.4" height="9" fill="#d4d4d4"/>
<rect x="580.6" y="1218" width="6.6" height="105.5" fill="#4c4e55"/>
<rect x="580.6" y="1219" width="6.6" height="10" fill="#7a7c84"/>
<rect x="702.9" y="1218" width="3" height="105.5" fill="#85878d"/>
<rect x="702.6" y="1217" width="3.4" height="9" fill="#d4d4d4"/>
<rect x="821.3" y="1218" width="6.6" height="105.5" fill="#4c4e55"/>
<rect x="821.3" y="1219" width="6.6" height="10" fill="#7a7c84"/>
<rect x="943.6" y="1218" width="3" height="105.5" fill="#85878d"/>
<rect x="943.4" y="1217" width="3.4" height="9" fill="#d4d4d4"/>
<rect x="1062.1" y="1218" width="6.6" height="105.5" fill="#4c4e55"/>
<rect x="1062.1" y="1219" width="6.6" height="10" fill="#7a7c84"/>
<rect x="1184.3" y="1218" width="3" height="105.5" fill="#85878d"/>
<rect x="1184.1" y="1217" width="3.4" height="9" fill="#d4d4d4"/>
<rect x="1302.8" y="1218" width="6.6" height="105.5" fill="#4c4e55"/>
<rect x="1302.8" y="1219" width="6.6" height="10" fill="#7a7c84"/>
<rect x="1425.1" y="1218" width="3" height="105.5" fill="#85878d"/>
<rect x="1424.9" y="1217" width="3.4" height="9" fill="#d4d4d4"/>
<rect x="1543.5" y="1218" width="6.6" height="105.5" fill="#4c4e55"/>
<rect x="1543.5" y="1219" width="6.6" height="10" fill="#7a7c84"/>
<rect x="1665.8" y="1218" width="3" height="105.5" fill="#85878d"/>
<rect x="1665.6" y="1217" width="3.4" height="9" fill="#d4d4d4"/>
<rect x="1784.3" y="1218" width="6.6" height="105.5" fill="#4c4e55"/>
<rect x="1784.3" y="1219" width="6.6" height="10" fill="#7a7c84"/>
<rect x="1906.6" y="1218" width="3" height="105.5" fill="#85878d"/>
<rect x="1906.4" y="1217" width="3.4" height="9" fill="#d4d4d4"/>
<rect x="2025.0" y="1218" width="6.6" height="105.5" fill="#4c4e55"/>
<rect x="2025.0" y="1219" width="6.6" height="10" fill="#7a7c84"/>
<rect x="2147.3" y="1218" width="3" height="105.5" fill="#85878d"/>
<rect x="2147.1" y="1217" width="3.4" height="9" fill="#d4d4d4"/>
<path d="M2415.5,1328 H2446.5 Q2449.2,1328 2449.2,1330.7 V1360.8 Q2449.2,1363.5 2446.5,1363.5 H2436 L2431.2,1370.5 L2426.4,1363.5 H2415.5 Q2412.8,1363.5 2412.8,1360.8 V1330.7 Q2412.8,1328 2415.5,1328 Z" fill="#f2f2f2"/>
<rect x="2419.2" y="1349" width="2.6" height="6.8" fill="#7d7d7d"/>
<rect x="2425.0" y="1341" width="3.2" height="14.8" fill="#7d7d7d"/>
<rect x="2431" y="1336.4" width="5.8" height="19.4" fill="#7d7d7d"/>
<rect x="2440.6" y="1349" width="2.8" height="6.8" fill="#7d7d7d"/>
<text x="49.05" y="100.8" font-family="'DejaVu Sans Condensed', 'DejaVu Sans', 'Liberation Sans', sans-serif" font-weight="bold" font-size="70" fill="#fbfbfb" textLength="388.22" lengthAdjust="spacingAndGlyphs">Relentless</text>
<text y="164.2" font-family="'DejaVu Sans', 'DejaVu Sans', 'Liberation Sans', sans-serif" font-weight="bold" font-size="48" fill="#f6f6f6"><tspan x="48.05" font-family="'DejaVu Sans Mono', 'DejaVu Sans', 'Liberation Sans', sans-serif" textLength="28.73" lengthAdjust="spacingAndGlyphs">I</tspan><tspan x="73.64" textLength="213.81" lengthAdjust="spacingAndGlyphs">nflation</tspan> <tspan x="309.57" textLength="54.06" lengthAdjust="spacingAndGlyphs">in</tspan> <tspan x="382.76" textLength="80.87" lengthAdjust="spacingAndGlyphs">US</tspan> <tspan x="483.09" textLength="167.10" lengthAdjust="spacingAndGlyphs">hotter</tspan> <tspan x="674.96" textLength="121.18" lengthAdjust="spacingAndGlyphs">than</tspan> <tspan x="820.99" textLength="220.02" lengthAdjust="spacingAndGlyphs">forecast</tspan> <tspan x="1063.85" textLength="60.31" lengthAdjust="spacingAndGlyphs">as</tspan> <tspan x="1145.85" textLength="167.23" lengthAdjust="spacingAndGlyphs">prices</tspan> <tspan x="1335.14" textLength="147.12" lengthAdjust="spacingAndGlyphs">climb</tspan> <tspan x="1504.36" textLength="53.10" lengthAdjust="spacingAndGlyphs">in</tspan> <tspan x="1577.78" textLength="160.44" lengthAdjust="spacingAndGlyphs">broad</tspan> <tspan x="1760.98" textLength="201.11" lengthAdjust="spacingAndGlyphs">fashion</tspan></text>
<text y="241" font-family="'DejaVu Sans', 'DejaVu Sans', 'Liberation Sans', sans-serif" font-weight="normal" font-size="35.5" fill="#cfcfcf"><tspan x="97.94" textLength="121.11" lengthAdjust="spacingAndGlyphs">Change</tspan> <tspan x="231.60" textLength="28.80" lengthAdjust="spacingAndGlyphs">in</tspan> <tspan x="271.97" textLength="162.03" lengthAdjust="spacingAndGlyphs">consumer</tspan> <tspan x="446.01" textLength="83.28" lengthAdjust="spacingAndGlyphs">price</tspan> <tspan x="540.66" textLength="88.20" lengthAdjust="spacingAndGlyphs">index</tspan> <tspan x="643.88" textLength="96.43" lengthAdjust="spacingAndGlyphs">(YoY)</tspan></text>
<text y="788" font-family="'DejaVu Sans', 'DejaVu Sans', 'Liberation Sans', sans-serif" font-weight="normal" font-size="35.5" fill="#cfcfcf"><tspan x="97.93" textLength="122.12" lengthAdjust="spacingAndGlyphs">Change</tspan> <tspan x="229.32" textLength="33.14" lengthAdjust="spacingAndGlyphs">in</tspan> <tspan x="271.80" textLength="61.49" lengthAdjust="spacingAndGlyphs">CPI</tspan> <tspan x="352.81" textLength="106.38" lengthAdjust="spacingAndGlyphs">(MoM)</tspan></text>
<text y="319.3" font-family="'DejaVu Sans Condensed', 'DejaVu Sans', 'Liberation Sans', sans-serif" font-weight="normal" font-size="38.8" fill="#8c3545" stroke="#3e0a14" stroke-width="6.0" stroke-linejoin="round" paint-order="stroke"><tspan x="1824.73" textLength="137.11" lengthAdjust="spacingAndGlyphs">Highest</tspan> <tspan x="1977.80" textLength="33.46" lengthAdjust="spacingAndGlyphs">in</tspan> <tspan x="2023.33" textLength="98.28" lengthAdjust="spacingAndGlyphs">more</tspan></text>
<text y="366.8" font-family="'DejaVu Sans Condensed', 'DejaVu Sans', 'Liberation Sans', sans-serif" font-weight="normal" font-size="38.8" fill="#8c3545" stroke="#3e0a14" stroke-width="6.0" stroke-linejoin="round" paint-order="stroke"><tspan x="1826.75" textLength="83.69" lengthAdjust="spacingAndGlyphs">than</tspan> <tspan x="1921.07" textLength="45.30" lengthAdjust="spacingAndGlyphs">40</tspan> <tspan x="1979.28" textLength="104.07" lengthAdjust="spacingAndGlyphs">years</tspan></text>
<text y="913.9" font-family="'DejaVu Sans Condensed', 'DejaVu Sans', 'Liberation Sans', sans-serif" font-weight="normal" font-size="38.8" fill="#8c3545" stroke="#3e0a14" stroke-width="6.0" stroke-linejoin="round" paint-order="stroke"><tspan x="1282.18" textLength="139.64" lengthAdjust="spacingAndGlyphs">Biggest</tspan> <tspan x="1434.86" textLength="79.36" lengthAdjust="spacingAndGlyphs">gain</tspan> <tspan x="1527.11" textLength="96.19" lengthAdjust="spacingAndGlyphs">since</tspan> <tspan x="1638.48" textLength="89.26" lengthAdjust="spacingAndGlyphs">2005</tspan></text>
<text x="2277.01" y="457.5" font-family="'DejaVu Sans Condensed', 'DejaVu Sans', 'Liberation Sans', sans-serif" font-weight="normal" font-size="42.3" fill="#d6d6d6" textLength="87.33" lengthAdjust="spacingAndGlyphs">5.00</text>
<text x="2278.08" y="632.2" font-family="'DejaVu Sans Condensed', 'DejaVu Sans', 'Liberation Sans', sans-serif" font-weight="normal" font-size="42.3" fill="#d6d6d6" textLength="87.26" lengthAdjust="spacingAndGlyphs">0.00</text>
<text x="2278.14" y="900.6" font-family="'DejaVu Sans Condensed', 'DejaVu Sans', 'Liberation Sans', sans-serif" font-weight="normal" font-size="42.3" fill="#d6d6d6" textLength="87.04" lengthAdjust="spacingAndGlyphs">1.00</text>
<text x="2278.08" y="1009.2" font-family="'DejaVu Sans Condensed', 'DejaVu Sans', 'Liberation Sans', sans-serif" font-weight="normal" font-size="42.3" fill="#d6d6d6" textLength="87.26" lengthAdjust="spacingAndGlyphs">0.00</text>
<text x="2279.91" y="1117.8" font-family="'DejaVu Sans Condensed', 'DejaVu Sans', 'Liberation Sans', sans-serif" font-weight="normal" font-size="42.3" fill="#d6d6d6" textLength="107.21" lengthAdjust="spacingAndGlyphs">-1.00</text>
<text x="2279.91" y="1209.6" font-family="'DejaVu Sans Condensed', 'DejaVu Sans', 'Liberation Sans', sans-serif" font-weight="normal" font-size="42.3" fill="#d6d6d6" textLength="107.21" lengthAdjust="spacingAndGlyphs">-2.00</text>
<text x="128.76" y="1313.3" font-family="'DejaVu Sans Condensed', 'DejaVu Sans', 'Liberation Sans', sans-serif" font-weight="normal" font-size="44" fill="#d6d6d6" textLength="67.52" lengthAdjust="spacingAndGlyphs">&#39;05</text>
<text x="249.22" y="1313.3" font-family="'DejaVu Sans Condensed', 'DejaVu Sans', 'Liberation Sans', sans-serif" font-weight="normal" font-size="44" fill="#d6d6d6" textLength="66.25" lengthAdjust="spacingAndGlyphs">&#39;06</text>
<text x="369.50" y="1313.3" font-family="'DejaVu Sans Condensed', 'DejaVu Sans', 'Liberation Sans', sans-serif" font-weight="normal" font-size="44" fill="#d6d6d6" textLength="67.52" lengthAdjust="spacingAndGlyphs">&#39;07</text>
<text x="489.88" y="1313.3" font-family="'DejaVu Sans Condensed', 'DejaVu Sans', 'Liberation Sans', sans-serif" font-weight="normal" font-size="44" fill="#d6d6d6" textLength="67.37" lengthAdjust="spacingAndGlyphs">&#39;08</text>
<text x="610.25" y="1313.3" font-family="'DejaVu Sans Condensed', 'DejaVu Sans', 'Liberation Sans', sans-serif" font-weight="normal" font-size="44" fill="#d6d6d6" textLength="67.37" lengthAdjust="spacingAndGlyphs">&#39;09</text>
<text x="730.70" y="1313.3" font-family="'DejaVu Sans Condensed', 'DejaVu Sans', 'Liberation Sans', sans-serif" font-weight="normal" font-size="44" fill="#d6d6d6" textLength="66.25" lengthAdjust="spacingAndGlyphs">&#39;10</text>
<text x="850.98" y="1313.3" font-family="'DejaVu Sans Condensed', 'DejaVu Sans', 'Liberation Sans', sans-serif" font-weight="normal" font-size="44" fill="#d6d6d6" textLength="67.52" lengthAdjust="spacingAndGlyphs">&#39;11</text>
<text x="971.25" y="1313.3" font-family="'DejaVu Sans Condensed', 'DejaVu Sans', 'Liberation Sans', sans-serif" font-weight="normal" font-size="44" fill="#d6d6d6" textLength="68.70" lengthAdjust="spacingAndGlyphs">&#39;12</text>
<text x="1091.73" y="1313.3" font-family="'DejaVu Sans Condensed', 'DejaVu Sans', 'Liberation Sans', sans-serif" font-weight="normal" font-size="44" fill="#d6d6d6" textLength="67.37" lengthAdjust="spacingAndGlyphs">&#39;13</text>
<text x="1212.17" y="1313.3" font-family="'DejaVu Sans Condensed', 'DejaVu Sans', 'Liberation Sans', sans-serif" font-weight="normal" font-size="44" fill="#d6d6d6" textLength="66.14" lengthAdjust="spacingAndGlyphs">&#39;14</text>
<text x="1332.46" y="1313.3" font-family="'DejaVu Sans Condensed', 'DejaVu Sans', 'Liberation Sans', sans-serif" font-weight="normal" font-size="44" fill="#d6d6d6" textLength="67.52" lengthAdjust="spacingAndGlyphs">&#39;15</text>
<text x="1452.92" y="1313.3" font-family="'DejaVu Sans Condensed', 'DejaVu Sans', 'Liberation Sans', sans-serif" font-weight="normal" font-size="44" fill="#d6d6d6" textLength="66.25" lengthAdjust="spacingAndGlyphs">&#39;16</text>
<text x="1573.20" y="1313.3" font-family="'DejaVu Sans Condensed', 'DejaVu Sans', 'Liberation Sans', sans-serif" font-weight="normal" font-size="44" fill="#d6d6d6" textLength="67.52" lengthAdjust="spacingAndGlyphs">&#39;17</text>
<text x="1693.58" y="1313.3" font-family="'DejaVu Sans Condensed', 'DejaVu Sans', 'Liberation Sans', sans-serif" font-weight="normal" font-size="44" fill="#d6d6d6" textLength="67.37" lengthAdjust="spacingAndGlyphs">&#39;18</text>
<text x="1813.95" y="1313.3" font-family="'DejaVu Sans Condensed', 'DejaVu Sans', 'Liberation Sans', sans-serif" font-weight="normal" font-size="44" fill="#d6d6d6" textLength="67.37" lengthAdjust="spacingAndGlyphs">&#39;19</text>
<text x="1934.40" y="1313.3" font-family="'DejaVu Sans Condensed', 'DejaVu Sans', 'Liberation Sans', sans-serif" font-weight="normal" font-size="44" fill="#d6d6d6" textLength="66.25" lengthAdjust="spacingAndGlyphs">&#39;20</text>
<text x="2054.68" y="1313.3" font-family="'DejaVu Sans Condensed', 'DejaVu Sans', 'Liberation Sans', sans-serif" font-weight="normal" font-size="44" fill="#d6d6d6" textLength="67.52" lengthAdjust="spacingAndGlyphs">&#39;21</text>
<text x="2174.95" y="1313.3" font-family="'DejaVu Sans Condensed', 'DejaVu Sans', 'Liberation Sans', sans-serif" font-weight="normal" font-size="44" fill="#d6d6d6" textLength="68.70" lengthAdjust="spacingAndGlyphs">&#39;22</text>
<text y="1365.6" font-family="'DejaVu Sans', 'DejaVu Sans', 'Liberation Sans', sans-serif" font-weight="bold" font-size="33.6" fill="#f0f0f0"><tspan x="59.31" textLength="151.26" lengthAdjust="spacingAndGlyphs">Source:</tspan> <tspan x="224.07" textLength="140.24" lengthAdjust="spacingAndGlyphs">Bureau</tspan> <tspan x="378.19" textLength="37.01" lengthAdjust="spacingAndGlyphs">of</tspan> <tspan x="427.32" textLength="105.07" lengthAdjust="spacingAndGlyphs">Labor</tspan> <tspan x="549.97" textLength="174.06" lengthAdjust="spacingAndGlyphs">Statistics</tspan></text>
<text x="2149.73" y="1363.4" font-family="'Liberation Sans', 'DejaVu Sans', 'Liberation Sans', sans-serif" font-weight="normal" font-size="48.2" fill="#f4f4f4" stroke="#f4f4f4" stroke-width="1.0" stroke-linejoin="round" paint-order="stroke" textLength="243.13" lengthAdjust="spacingAndGlyphs">Bloomberg</text>
<text transform="translate(2407.2,410.5) rotate(90)" x="-4.15" y="0" font-family="'DejaVu Sans Condensed', 'DejaVu Sans', 'Liberation Sans', sans-serif" font-weight="normal" font-size="54" fill="#f0f0f0" textLength="185.66" lengthAdjust="spacingAndGlyphs">Percent</text>
<text transform="translate(2407.8,929.9) rotate(90)" x="-4.15" y="0" font-family="'DejaVu Sans Condensed', 'DejaVu Sans', 'Liberation Sans', sans-serif" font-weight="normal" font-size="54" fill="#f0f0f0" textLength="185.18" lengthAdjust="spacingAndGlyphs">Percent</text>
<path d="M2262.3,302 L2275.8,276.3 H2394 V326.8 H2275.8 Z" fill="#eca858"/>
<path d="M2262.5,851.3 L2276.3,826.8 H2394.4 V876.1 H2276.3 Z" fill="#7686a8"/>
<text x="2279.40" y="320.2" font-family="'DejaVu Sans Condensed', 'DejaVu Sans', 'Liberation Sans', sans-serif" font-weight="normal" font-size="45.7" fill="#6a2b34" stroke="#6a2b34" stroke-width="0.9" stroke-linejoin="round" paint-order="stroke" textLength="88.20" lengthAdjust="spacingAndGlyphs">9.06</text>
<text x="2281.36" y="868.6" font-family="'DejaVu Sans Condensed', 'DejaVu Sans', 'Liberation Sans', sans-serif" font-weight="normal" font-size="42.8" fill="#14294e" stroke="#14294e" stroke-width="0.7" stroke-linejoin="round" paint-order="stroke" textLength="85.50" lengthAdjust="spacingAndGlyphs">1.32</text>
</g></g>
</svg></body></html>
